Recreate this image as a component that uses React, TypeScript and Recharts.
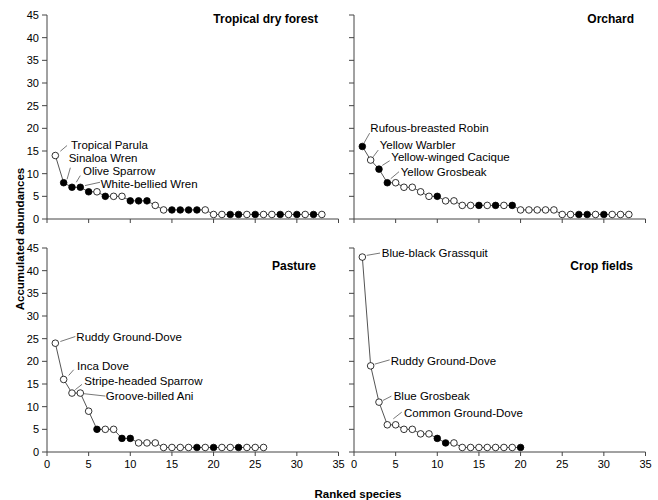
import { LineChart, Line, XAxis, YAxis } from 'recharts';

// accumulated abundances by rank, plus whether the marker is filled
const tdfValues = [14, 8, 7, 7, 6, 6, 5, 5, 5, 4, 4, 4, 3, 2, 2, 2, 2, 2, 2, 1, 1, 1, 1, 1, 1, 1, 1, 1, 1, 1, 1, 1, 1];
const tdfFilled = [0, 1, 1, 1, 1, 0, 1, 0, 0, 1, 1, 1, 0, 0, 1, 1, 1, 1, 0, 0, 0, 1, 1, 0, 1, 0, 0, 1, 0, 1, 0, 1, 0];

const orchardValues = [16, 13, 11, 8, 8, 7, 7, 6, 5, 5, 4, 4, 3, 3, 3, 3, 3, 3, 3, 2, 2, 2, 2, 2, 1, 1, 1, 1, 1, 1, 1, 1, 1];
const orchardFilled = [1, 0, 1, 1, 0, 0, 0, 0, 0, 1, 0, 0, 0, 0, 1, 0, 1, 0, 1, 0, 0, 0, 0, 0, 0, 0, 1, 1, 0, 1, 0, 0, 0];

const pastureValues = [24, 16, 13, 13, 9, 5, 5, 5, 3, 3, 2, 2, 2, 1, 1, 1, 1, 1, 1, 1, 1, 1, 1, 1, 1, 1];
const pastureFilled = [0, 0, 0, 0, 0, 1, 0, 0, 1, 1, 0, 0, 0, 0, 0, 0, 0, 1, 0, 1, 0, 0, 1, 0, 0, 0];

const cropValues = [43, 19, 11, 6, 6, 5, 5, 4, 4, 3, 2, 2, 1, 1, 1, 1, 1, 1, 1, 1];
const cropFilled = [0, 0, 0, 0, 0, 0, 0, 0, 0, 1, 1, 0, 0, 0, 0, 0, 0, 0, 0, 1];

const xTicks = [0, 5, 10, 15, 20, 25, 30, 35];
const yTicks = [0, 5, 10, 15, 20, 25, 30, 35, 40, 45];

const tdfLabels = ['Tropical Parula', 'Sinaloa Wren', 'Olive Sparrow', 'White-bellied Wren'];
const orchardLabels = ['Rufous-breasted Robin', 'Yellow Warbler', 'Yellow-winged Cacique', 'Yellow Grosbeak'];
const pastureLabels = ['Ruddy Ground-Dove', 'Inca Dove', 'Stripe-headed Sparrow', 'Groove-billed Ani'];
const cropLabels = ['Blue-black Grassquit', 'Ruddy Ground-Dove', 'Blue Grosbeak', 'Common Ground-Dove'];

// leader line / text offsets from the point: [lx1, ly1, lx2, ly2, tx, ty]
const tdfOffsets = [
  [5, -4.3, 11.7, -10, 15.7, -11],
  [3.4, -3.4, 6.7, -15, 5, -25],
  [4.3, -5, 8.3, -11.7, 11, -16.7],
  [4.7, -1.7, 19.7, -5, 20.4, -3.4],
];
const orchardOffsets = [
  [1.6, -3.3, 7.3, -13.3, 8, -18.3],
  [2.6, -3.3, 7.6, -10, 9, -15],
  [3.3, -3.7, 10.7, -8.4, 12.3, -11.7],
  [3.4, -4, 11.7, -11, 13.4, -11],
];
const pastureOffsets = [
  [5, -1.7, 20, -6.7, 21, -6.7],
  [5, -4, 10, -9.7, 13.4, -13],
  [3.3, -3.4, 10, -8.7, 12.3, -12],
  [3.3, 0.6, 25, 3, 25.5, 3],
];
const cropOffsets = [
  [4.4, -1.7, 17.7, -4, 19.4, -4],
  [4, -1.7, 19, -6, 20, -5.3],
  [4, -1.7, 12.4, -6, 14.7, -6],
  [6, -6, 14.4, -12.6, 16.7, -12],
];

const FONT = '"Liberation Sans", Arial, sans-serif';
const AXIS = '#444';

function buildData(values: number[], filled: number[]) {
  return values.map((v, i) => ({ rank: i + 1, value: v, filled: filled[i] === 1 }));
}

interface PanelProps {
  values: number[];
  filled: number[];
  labels: string[];
  offsets: number[][];
  title: string;
  left: number;
  top: number;
  width: number;
  height: number;
  margin: { top: number; right: number; bottom: number; left: number };
  yWidth: number;
  xHeight: number;
  showX: boolean;
  showY: boolean;
  titleRight: number;
  titleTop: number;
}

function Panel(p: PanelProps) {
  const data = buildData(p.values, p.filled);

  const renderDot = (props: any) => {
    const { cx, cy, index, payload } = props;
    const o = index < p.labels.length ? p.offsets[index] : null;
    return (
      <g key={`dot-${index}`}>
        <circle
          cx={cx}
          cy={cy}
          r={3.3}
          fill={payload.filled ? '#000' : '#fff'}
          stroke="#000"
          strokeWidth={0.8}
        />
        {o && (
          <g>
            <line x1={cx + o[0]} y1={cy + o[1]} x2={cx + o[2]} y2={cy + o[3]} stroke="#555" strokeWidth={0.8} />
            <text x={cx + o[4]} y={cy + o[5]} dy="0.35em" fontSize={11.5} fontFamily={FONT} fill="#000">
              {p.labels[index]}
            </text>
          </g>
        )}
      </g>
    );
  };

  return (
    <div style={{ position: 'absolute', left: p.left, top: p.top, width: p.width, height: p.height }}>
      <LineChart width={p.width} height={p.height} data={data} margin={p.margin}>
        <XAxis
          type="number"
          dataKey="rank"
          domain={[0, 35]}
          ticks={xTicks}
          height={p.xHeight}
          stroke={AXIS}
          tickSize={4}
          tickMargin={4}
          tick={{ fontSize: 11, fill: '#000', fontFamily: FONT }}
          tickFormatter={(v) => (p.showX ? `${v}` : '')}
        />
        <YAxis
          type="number"
          domain={[0, 45]}
          ticks={yTicks}
          width={p.yWidth}
          stroke={AXIS}
          tickSize={5}
          tickMargin={3}
          tick={{ fontSize: 11, fill: '#000', fontFamily: FONT }}
          tickFormatter={(v) => (p.showY ? `${v}` : '')}
        />
        <Line
          type="linear"
          dataKey="value"
          stroke="#555"
          strokeWidth={1}
          dot={renderDot}
          activeDot={false}
          isAnimationActive={false}
        />
      </LineChart>
      <div
        style={{
          position: 'absolute',
          right: p.width - p.titleRight,
          top: p.titleTop - 8,
          fontFamily: FONT,
          fontWeight: 'bold',
          fontSize: 12,
          whiteSpace: 'nowrap',
        }}
      >
        {p.title}
      </div>
    </div>
  );
}

export default function App() {
  const topMargin = { top: 15, right: 6.5, bottom: 0, left: 17 };
  const rightMarginTop = { top: 15, right: 12.5, bottom: 0, left: 0 };
  return (
    <div style={{ position: 'absolute', left: 0, top: 0, width: 658, height: 500, background: '#fff' }}>
      <Panel
        values={tdfValues}
        filled={tdfFilled}
        labels={tdfLabels}
        offsets={tdfOffsets}
        title="Tropical dry forest"
        left={0}
        top={0}
        width={345}
        height={229}
        margin={topMargin}
        yWidth={30}
        xHeight={10}
        showX={false}
        showY={true}
        titleRight={318}
        titleTop={20}
      />
      <Panel
        values={orchardValues}
        filled={orchardFilled}
        labels={orchardLabels}
        offsets={orchardOffsets}
        title="Orchard"
        left={330}
        top={0}
        width={328}
        height={229}
        margin={rightMarginTop}
        yWidth={24}
        xHeight={10}
        showX={false}
        showY={false}
        titleRight={304}
        titleTop={20}
      />
      <Panel
        values={pastureValues}
        filled={pastureFilled}
        labels={pastureLabels}
        offsets={pastureOffsets}
        title="Pasture"
        left={0}
        top={233}
        width={345}
        height={241}
        margin={{ top: 15, right: 6.5, bottom: 0, left: 17 }}
        yWidth={30}
        xHeight={22}
        showX={true}
        showY={true}
        titleRight={316}
        titleTop={34}
      />
      <Panel
        values={cropValues}
        filled={cropFilled}
        labels={cropLabels}
        offsets={cropOffsets}
        title="Crop fields"
        left={330}
        top={233}
        width={328}
        height={241}
        margin={{ top: 15, right: 12.5, bottom: 0, left: 0 }}
        yWidth={24}
        xHeight={22}
        showX={true}
        showY={false}
        titleRight={303}
        titleTop={34}
      />
      <div
        style={{
          position: 'absolute',
          left: 20,
          top: 239,
          transform: 'translate(-50%, -50%) rotate(-90deg)',
          fontFamily: FONT,
          fontWeight: 'bold',
          fontSize: 11.5,
          whiteSpace: 'nowrap',
        }}
      >
        Accumulated abundances
      </div>
      <div
        style={{
          position: 'absolute',
          left: 358,
          top: 494,
          transform: 'translate(-50%, -50%)',
          fontFamily: FONT,
          fontWeight: 'bold',
          fontSize: 11.5,
          whiteSpace: 'nowrap',
        }}
      >
        Ranked species
      </div>
    </div>
  );
}
